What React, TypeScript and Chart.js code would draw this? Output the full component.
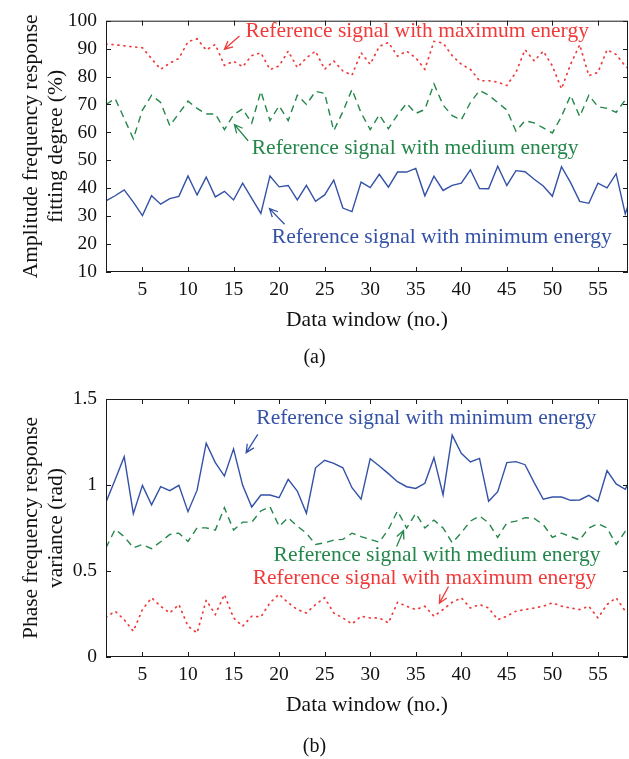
import React, { useEffect, useRef } from 'react';
import { Chart, registerables } from 'chart.js';

Chart.register(...registerables);

const FONT = '"Liberation Serif", "Times New Roman", serif';
const BLUE = '#3351a6';
const GREEN = '#23864a';
const RED = '#f03a3a';

// Data window numbers (the last one lies just past the right edge of the axes)
const windows = [
  1, 2, 3, 4, 5, 6, 7, 8, 9, 10, 11, 12, 13, 14, 15, 16, 17, 18, 19, 20,
  21, 22, 23, 24, 25, 26, 27, 28, 29, 30, 31, 32, 33, 34, 35, 36, 37, 38, 39, 40,
  41, 42, 43, 44, 45, 46, 47, 48, 49, 50, 51, 52, 53, 54, 55, 56, 57, 58, 59,
];

// (a) Amplitude frequency response fitting degree (%)
const ampMaxEnergy = [
  91.6, 91.4, 91.0, 90.6, 90.3, 86.4, 82.6, 84.8, 86.5, 92.5, 93.5, 89.5, 91.5, 84.0, 85.5, 83.5, 87.5, 88.5, 82.5, 83.8,
  89.1, 83.2, 86.7, 89.1, 82.6, 85.6, 82.0, 80.5, 88.5, 84.4, 90.8, 92.2, 87.3, 89.1, 86.7, 82.6, 92.6, 92.0, 87.5, 84.4,
  82.6, 78.5, 78.5, 78.0, 76.8, 81.5, 89.6, 85.6, 89.1, 83.8, 75.6, 84.4, 91.4, 80.3, 81.5, 89.6, 87.9, 83.8, 81.0,
];
const ampMediumEnergy = [
  70.0, 72.1, 65.0, 57.7, 68.0, 73.3, 70.7, 62.4, 66.8, 71.2, 68.6, 66.6, 66.6, 61.0, 66.3, 68.4, 63.3, 74.7, 64.2, 69.5,
  64.2, 73.3, 70.0, 74.7, 74.0, 60.6, 67.4, 75.4, 67.0, 61.0, 66.3, 61.3, 66.3, 70.4, 66.8, 68.2, 77.4, 69.8, 66.0, 64.5,
  70.7, 75.0, 73.3, 70.7, 68.0, 60.4, 64.2, 63.4, 61.6, 59.8, 65.7, 73.3, 65.7, 73.3, 69.2, 68.6, 67.2, 71.6, 69.0,
];
const ampMinEnergy = [
  35.5, 37.3, 39.4, 35.0, 30.2, 37.3, 34.3, 36.3, 37.1, 44.4, 37.6, 44.0, 36.9, 38.9, 35.8, 41.8, 36.4, 31.0, 44.4, 40.5,
  41.0, 35.8, 41.0, 35.3, 37.6, 42.9, 32.9, 31.6, 42.2, 40.2, 45.0, 40.4, 45.8, 45.8, 47.1, 37.3, 44.3, 39.2, 41.0, 41.8,
  46.6, 39.9, 39.8, 47.9, 41.0, 46.3, 45.9, 43.2, 40.8, 37.1, 47.7, 42.0, 35.3, 34.6, 41.8, 40.1, 45.2, 30.8, 40.5,
];

// (b) Phase frequency response variance (rad)
const phaseMinEnergy = [
  0.900, 1.030, 1.165, 0.833, 0.998, 0.885, 0.990, 0.967, 0.998, 0.845, 0.970, 1.243, 1.130, 1.052, 1.210, 0.998, 0.872, 0.942, 0.942, 0.926,
  1.033, 0.965, 0.835, 1.100, 1.144, 1.126, 1.100, 0.984, 0.917, 1.153, 1.110, 1.066, 1.019, 0.990, 0.980, 1.010, 1.159, 0.942, 1.290, 1.184,
  1.134, 1.155, 0.905, 0.961, 1.130, 1.136, 1.118, 1.014, 0.917, 0.930, 0.930, 0.911, 0.913, 0.940, 0.905, 1.083, 1.006, 0.975, 1.080,
];
const phaseMediumEnergy = [
  0.635, 0.742, 0.700, 0.635, 0.654, 0.630, 0.670, 0.712, 0.720, 0.672, 0.751, 0.751, 0.738, 0.868, 0.738, 0.784, 0.784, 0.849, 0.874, 0.760,
  0.810, 0.760, 0.720, 0.654, 0.664, 0.680, 0.684, 0.720, 0.700, 0.684, 0.668, 0.742, 0.849, 0.750, 0.835, 0.750, 0.796, 0.750, 0.664, 0.722,
  0.790, 0.820, 0.780, 0.695, 0.780, 0.790, 0.810, 0.805, 0.770, 0.695, 0.720, 0.700, 0.680, 0.750, 0.775, 0.750, 0.654, 0.730, 0.750,
];
const phaseMaxEnergy = [
  0.231, 0.266, 0.217, 0.150, 0.276, 0.344, 0.295, 0.256, 0.305, 0.179, 0.140, 0.330, 0.247, 0.363, 0.227, 0.179, 0.237, 0.233, 0.315, 0.365,
  0.315, 0.276, 0.256, 0.305, 0.344, 0.256, 0.227, 0.192, 0.237, 0.227, 0.227, 0.198, 0.318, 0.295, 0.276, 0.295, 0.237, 0.276, 0.318, 0.344,
  0.285, 0.305, 0.285, 0.217, 0.237, 0.266, 0.276, 0.285, 0.295, 0.315, 0.295, 0.285, 0.276, 0.295, 0.227, 0.305, 0.344, 0.266, 0.240,
];

const X_MIN = 1;
const X_MAX = 58.3;
const xTickStep = 5;

const ampTicks = { min: 10, max: 100, step: 10 };
const phaseTicks = { min: 0, max: 1.5, step: 0.5 };

const ampTitle = ['Amplitude frequency response', 'fitting degree (%)'];
const phaseTitle = ['Phase frequency response', 'variance (rad)'];
const xTitle = 'Data window (no.)';

// Annotation labels, in data coordinates: text anchor (left, middle) and arrow start -> arrow tip
const ampNotes = [
  { text: 'Reference signal with maximum energy', color: RED, tx: 16.3, ty: 96.1, ax0: 15.65, ay0: 94.5, ax1: 14.0, ay1: 89.8 },
  { text: 'Reference signal with medium energy', color: GREEN, tx: 17.0, ty: 54.3, ax0: 16.6, ay0: 57.0, ax1: 15.1, ay1: 62.8 },
  { text: 'Reference signal with minimum energy', color: BLUE, tx: 19.2, ty: 22.3, ax0: 20.6, ay0: 27.1, ax1: 18.95, ay1: 32.7 },
];
const phaseNotes = [
  { text: 'Reference signal with minimum energy', color: BLUE, tx: 17.5, ty: 1.388, ax0: 17.66, ay0: 1.294, ax1: 16.39, ay1: 1.188 },
  { text: 'Reference signal with medium energy', color: GREEN, tx: 19.4, ty: 0.589, ax0: 32.9, ay0: 0.643, ax1: 33.66, ay1: 0.735 },
  { text: 'Reference signal with maximum energy', color: RED, tx: 17.1, ty: 0.455, ax0: 38.6, ay0: 0.41, ax1: 37.6, ay1: 0.313 },
];

type Note = { text: string; color: string; tx: number; ty: number; ax0: number; ay0: number; ax1: number; ay1: number };

function makeDecor(notes: Note[]) {
  return {
    id: 'decor',
    afterDatasetsDraw(chart: any) {
      const { ctx, chartArea: a } = chart;
      const xs = chart.scales.x;
      const ys = chart.scales.y;
      ctx.save();
      // frame
      ctx.strokeStyle = '#1a1a1a';
      ctx.lineWidth = 1;
      ctx.strokeRect(a.left + 0.5, a.top + 0.5, a.right - a.left - 1, a.bottom - a.top - 1);
      // inward tick marks on all four sides
      const L = 5;
      ctx.beginPath();
      xs.ticks.forEach((t: any) => {
        const px = Math.round(xs.getPixelForValue(t.value)) + 0.5;
        ctx.moveTo(px, a.bottom);
        ctx.lineTo(px, a.bottom - L);
        ctx.moveTo(px, a.top);
        ctx.lineTo(px, a.top + L);
      });
      ys.ticks.forEach((t: any) => {
        const py = Math.round(ys.getPixelForValue(t.value)) + 0.5;
        ctx.moveTo(a.left, py);
        ctx.lineTo(a.left + L, py);
        ctx.moveTo(a.right, py);
        ctx.lineTo(a.right - L, py);
      });
      ctx.stroke();
      // annotations
      ctx.font = `21.5px ${FONT}`;
      ctx.textBaseline = 'middle';
      ctx.textAlign = 'left';
      notes.forEach((n) => {
        ctx.fillStyle = n.color;
        ctx.fillText(n.text, xs.getPixelForValue(n.tx), ys.getPixelForValue(n.ty));
        const x0 = xs.getPixelForValue(n.ax0);
        const y0 = ys.getPixelForValue(n.ay0);
        const x1 = xs.getPixelForValue(n.ax1);
        const y1 = ys.getPixelForValue(n.ay1);
        const ang = Math.atan2(y1 - y0, x1 - x0);
        const h = 9;
        ctx.strokeStyle = n.color;
        ctx.lineWidth = 1.3;
        ctx.beginPath();
        ctx.moveTo(x0, y0);
        ctx.lineTo(x1, y1);
        ctx.moveTo(x1 - h * Math.cos(ang - 0.45), y1 - h * Math.sin(ang - 0.45));
        ctx.lineTo(x1, y1);
        ctx.lineTo(x1 - h * Math.cos(ang + 0.45), y1 - h * Math.sin(ang + 0.45));
        ctx.stroke();
      });
      ctx.restore();
    },
  };
}

type Series = { label: string; values: number[]; color: string; dash: number[]; width: number; cap: string };

type PanelProps = {
  top: number;
  height: number;
  series: Series[];
  ticks: { min: number; max: number; step: number };
  yTitle: string[];
  padTop: number;
  xAxisHeight: number;
  xTitlePad: number;
  notes: Note[];
};

function Panel(p: PanelProps) {
  const ref = useRef<HTMLCanvasElement | null>(null);
  useEffect(() => {
    if (!ref.current) return;
    const chart = new Chart(ref.current, {
      type: 'line',
      data: {
        datasets: p.series.map((s) => ({
          label: s.label,
          data: windows.map((w, i) => ({ x: w, y: s.values[i] })),
          borderColor: s.color,
          borderWidth: s.width,
          borderDash: s.dash,
          borderCapStyle: s.cap as any,
          pointRadius: 0,
          fill: false,
          tension: 0,
        })),
      },
      options: {
        responsive: false,
        animation: false,
        devicePixelRatio: 1,
        layout: { padding: { top: p.padTop, right: 1, left: 0, bottom: 0 } },
        plugins: { legend: { display: false }, tooltip: { enabled: false } },
        scales: {
          x: {
            type: 'linear',
            min: X_MIN,
            max: X_MAX,
            grid: { display: false, drawTicks: false },
            border: { display: false },
            ticks: { stepSize: xTickStep, includeBounds: false, padding: 6, color: '#111', font: { family: FONT, size: 19.5 } },
            title: { display: true, text: xTitle, color: '#111', font: { family: FONT, size: 21.5 }, padding: { top: 0, bottom: p.xTitlePad } },
            afterFit: (s: any) => { s.height = p.xAxisHeight; },
          },
          y: {
            type: 'linear',
            min: p.ticks.min,
            max: p.ticks.max,
            grid: { display: false, drawTicks: false },
            border: { display: false },
            ticks: {
              stepSize: p.ticks.step,
              padding: 9,
              color: '#111',
              font: { family: FONT, size: 19.5 },
              callback: (v: any) => String(Math.round(Number(v) * 100) / 100),
            },
            title: { display: true, text: p.yTitle, color: '#111', font: { family: FONT, size: 21.5 }, padding: { top: 18, bottom: 0 } },
            afterFit: (s: any) => { s.width = 106; },
          },
        },
      } as any,
      plugins: [makeDecor(p.notes)],
    });
    return () => chart.destroy();
  }, []);
  return (
    <canvas
      ref={ref}
      width={629}
      height={p.height}
      style={{ position: 'absolute', left: 0, top: p.top, width: 629, height: p.height }}
    />
  );
}

const ampSeries: Series[] = [
  { label: 'Reference signal with maximum energy', values: ampMaxEnergy, color: RED, dash: [1, 5], width: 1.7, cap: 'round' },
  { label: 'Reference signal with medium energy', values: ampMediumEnergy, color: GREEN, dash: [7, 5], width: 1.4, cap: 'butt' },
  { label: 'Reference signal with minimum energy', values: ampMinEnergy, color: BLUE, dash: [], width: 1.4, cap: 'butt' },
];
const phaseSeries: Series[] = [
  { label: 'Reference signal with maximum energy', values: phaseMaxEnergy, color: RED, dash: [1, 5], width: 1.7, cap: 'round' },
  { label: 'Reference signal with medium energy', values: phaseMediumEnergy, color: GREEN, dash: [7, 5], width: 1.4, cap: 'butt' },
  { label: 'Reference signal with minimum energy', values: phaseMinEnergy, color: BLUE, dash: [], width: 1.4, cap: 'butt' },
];

export default function App() {
  const caption: React.CSSProperties = {
    position: 'absolute',
    left: 0,
    width: 629,
    textAlign: 'center',
    fontSize: 20,
    lineHeight: '24px',
    fontFamily: FONT,
    color: '#111',
  };
  return (
    <div style={{ position: 'absolute', left: 0, top: 0, width: 629, height: 759, background: '#fff' }}>
      <Panel top={0} height={345} series={ampSeries} ticks={ampTicks} yTitle={ampTitle} padTop={16} xAxisHeight={73} xTitlePad={12} notes={ampNotes} />
      <div style={{ ...caption, top: 344 }}>(a)</div>
      <Panel top={345} height={379} series={phaseSeries} ticks={phaseTicks} yTitle={phaseTitle} padTop={54} xAxisHeight={67} xTitlePad={6} notes={phaseNotes} />
      <div style={{ ...caption, top: 733 }}>(b)</div>
    </div>
  );
}
